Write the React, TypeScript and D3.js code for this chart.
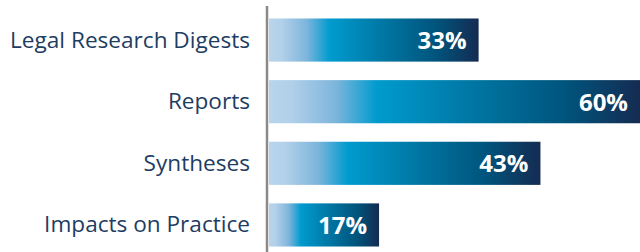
import React from 'react';
import * as d3 from 'd3';

const categories = ['Legal Research Digests', 'Reports', 'Syntheses', 'Impacts on Practice'];
const values = [33.9, 60, 43.9, 17.8];
const valueLabels = ['33%', '60%', '43%', '17%'];

const width = 640;
const height = 252;
const axisX = 267;
const barStart = 269;

export default function App() {
  const x = d3.scaleLinear().domain([0, 60]).range([barStart, 640]);
  const y = d3.scaleBand().domain(categories).range([0, 265]).paddingInner(0.3).paddingOuter(0.3);

  return (
    <svg width={width} height={height} style={{ position: 'absolute', left: 0, top: 0 }}>
      <defs>
        <linearGradient id="barGrad" x1="0" x2="1" y1="0" y2="0">
          <stop offset="0" stopColor="#b8d5ec" />
          <stop offset="0.06" stopColor="#b2d0e9" />
          <stop offset="0.18" stopColor="#7db5dc" />
          <stop offset="0.29" stopColor="#009bce" />
          <stop offset="0.55" stopColor="#0076a3" />
          <stop offset="0.8" stopColor="#00547c" />
          <stop offset="1" stopColor="#152b52" />
        </linearGradient>
      </defs>
      {categories.map((c, i) => {
        const by = y(c)!;
        const bh = y.bandwidth();
        return (
          <g key={c}>
            <rect x={barStart} y={by} width={x(values[i]) - barStart} height={bh} fill="url(#barGrad)" />
            <text
              x={x(values[i]) - 12}
              y={by + bh / 2 + 9}
              textAnchor="end"
              fill="#fff"
              fontFamily="Open Sans"
              fontWeight={700}
              fontSize={24}
            >
              {valueLabels[i]}
            </text>
            <text
              x={250}
              y={by + bh / 2 + 7.5}
              textAnchor="end"
              fill="#1d3d63"
              fontFamily="Open Sans"
              fontSize={22.6}
            >
              {c}
            </text>
          </g>
        );
      })}
      <line x1={axisX} x2={axisX} y1={6} y2={height} stroke="#8a8a8a" strokeWidth={2.5} />
    </svg>
  );
}
